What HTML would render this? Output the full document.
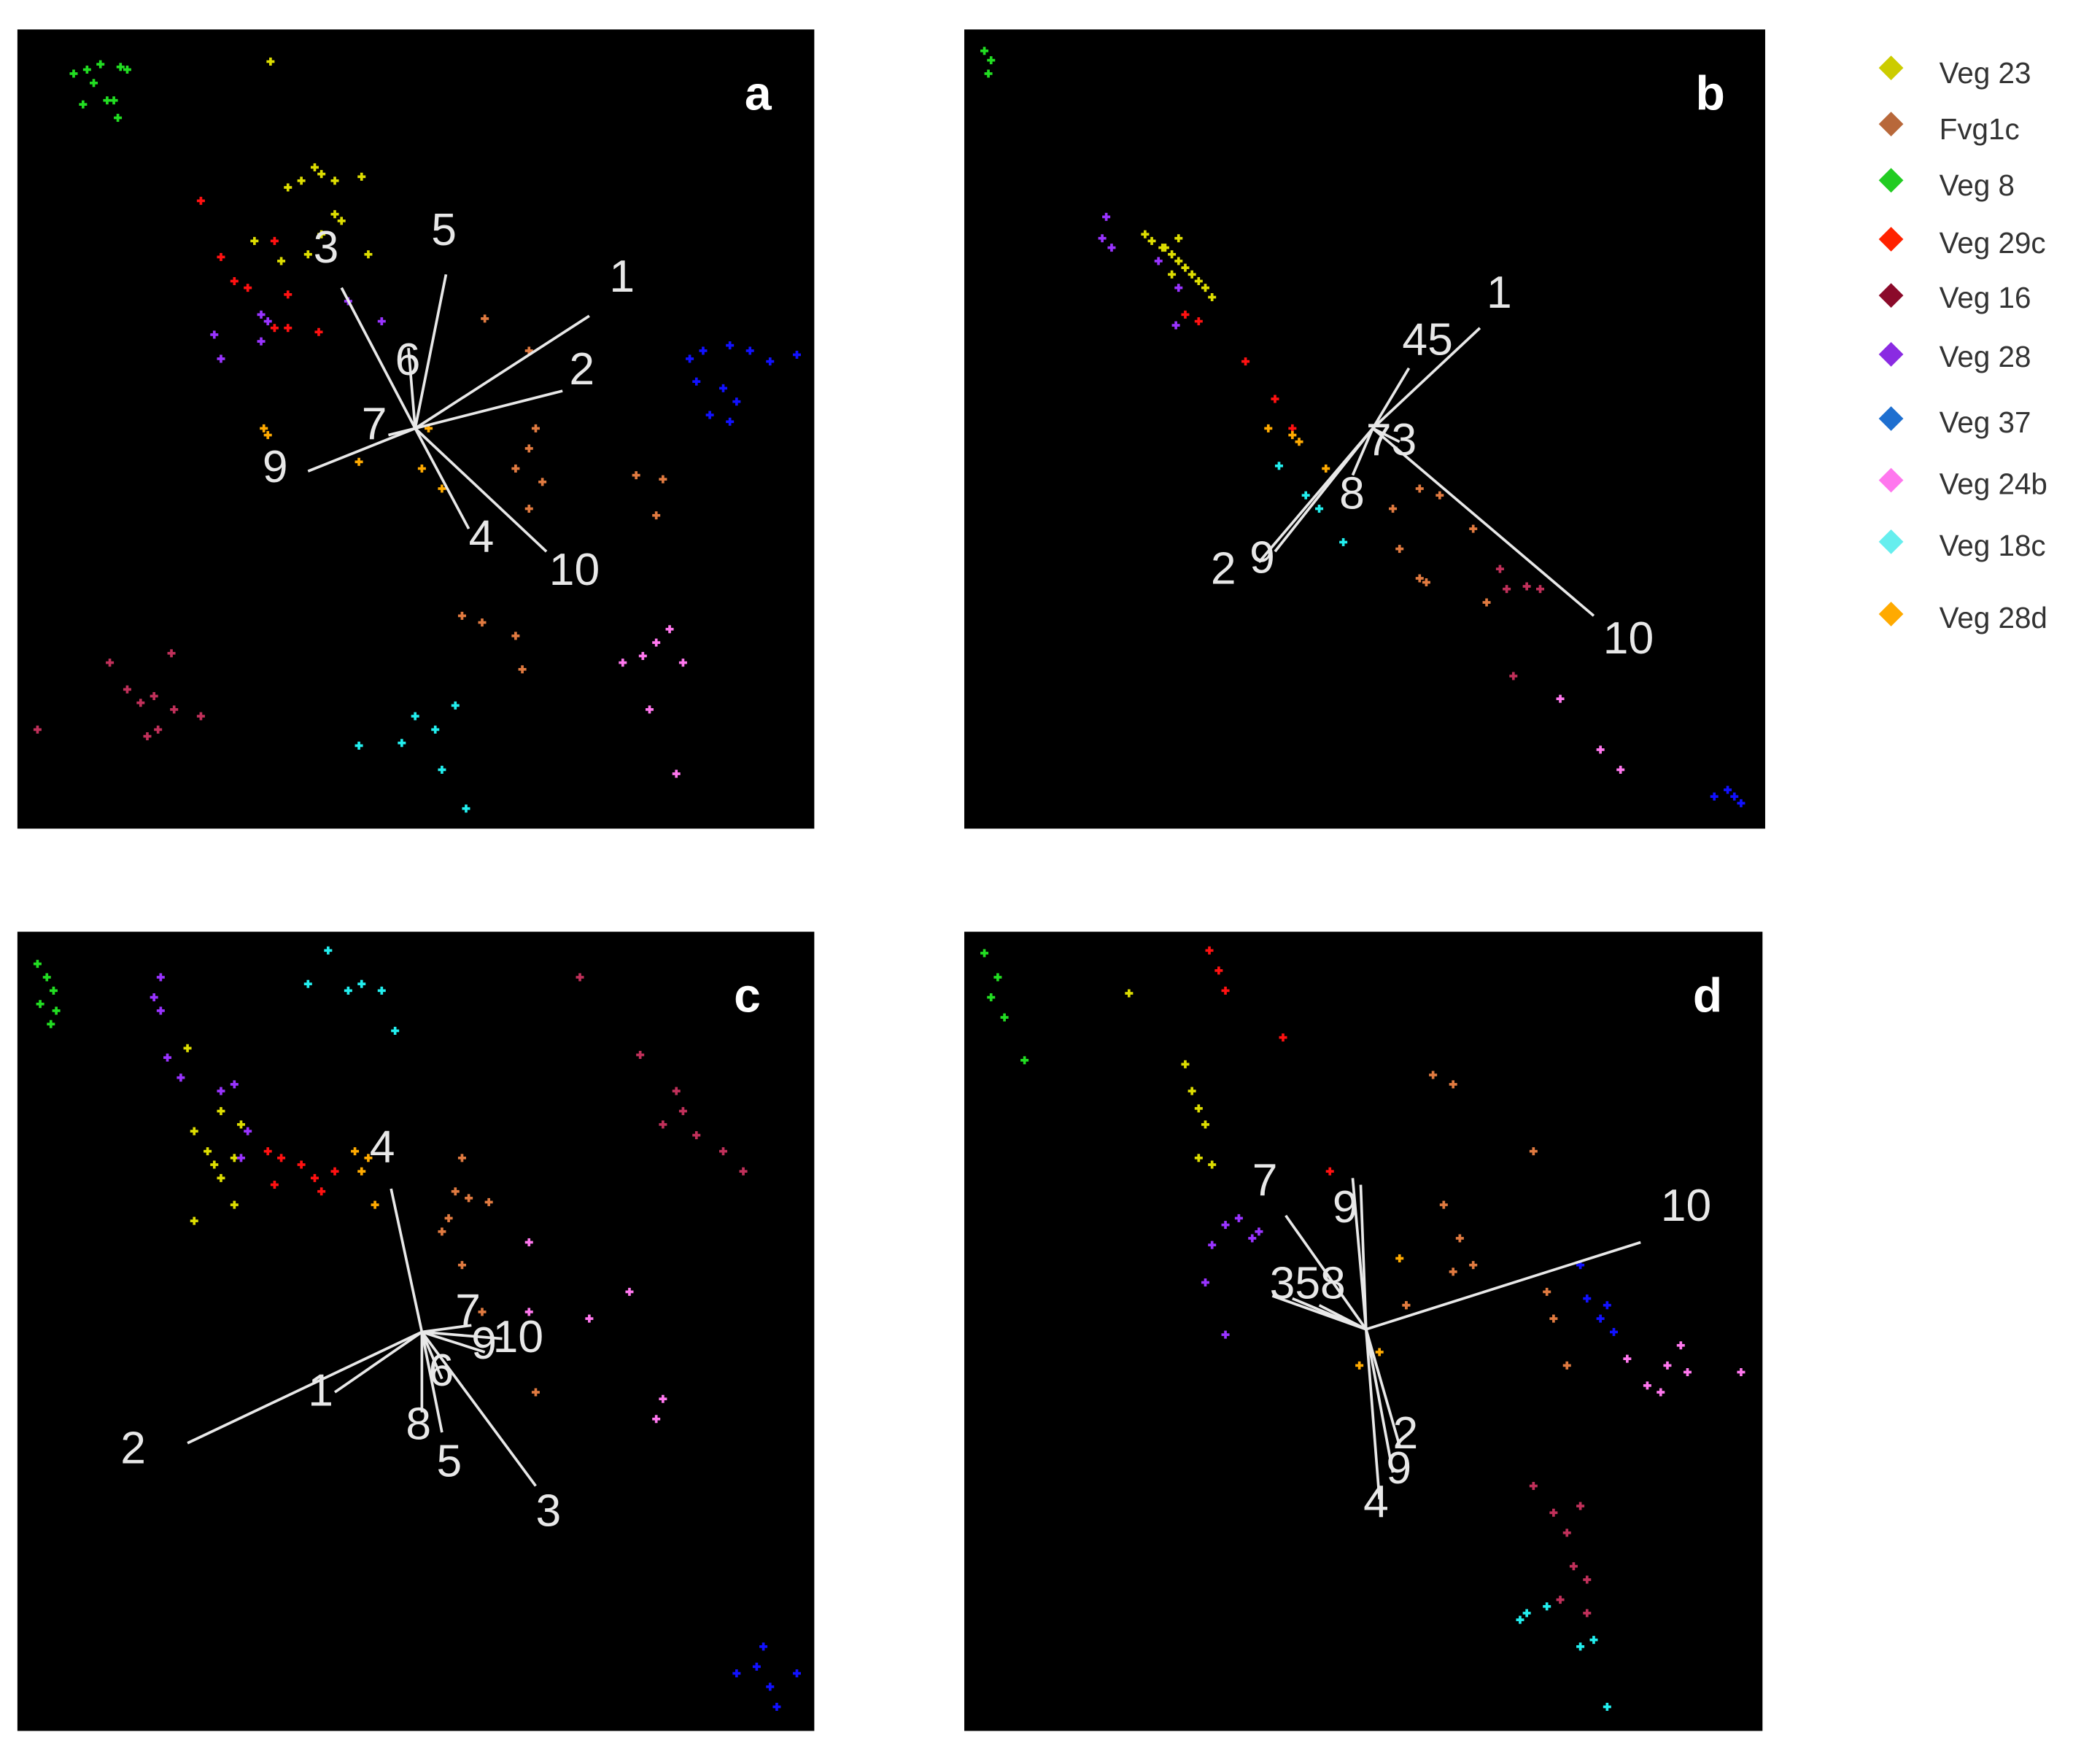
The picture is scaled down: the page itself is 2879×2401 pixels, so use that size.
<!DOCTYPE html>
<html><head><meta charset="utf-8"><style>
html,body{margin:0;padding:0;background:#fff;}
svg{display:block;}
text{font-family:"Liberation Sans",sans-serif;}
.l{fill:none;stroke:#e8e8e8;stroke-width:2;}
.n{fill:#e8e8e8;font-size:34px;}
.p{fill:#fff;font-size:36px;font-weight:bold;}
.g{font-size:22px;fill:#333;}
</style></head><body>
<svg id="sv" width="2879" height="2401" viewBox="0 0 1568 1308" preserveAspectRatio="none" xmlns="http://www.w3.org/2000/svg">
<rect x="13" y="22" width="595" height="597" fill="#000"/>
<rect x="720" y="22" width="598" height="597" fill="#000"/>
<rect x="13" y="696" width="595" height="597" fill="#000"/>
<rect x="720" y="696" width="596" height="597" fill="#000"/>
<g id="pts"></g>
<g class="l">
<line x1="310" y1="320" x2="440" y2="236"/><line x1="310" y1="320" x2="420" y2="292"/>
<line x1="310" y1="320" x2="255" y2="215"/><line x1="310" y1="320" x2="333" y2="205"/>
<line x1="310" y1="320" x2="350" y2="395"/><line x1="310" y1="320" x2="408" y2="412"/>
<line x1="310" y1="320" x2="230" y2="352"/><line x1="310" y1="320" x2="305" y2="260"/>
<line x1="310" y1="320" x2="290" y2="325"/>
<line x1="1025" y1="320" x2="1105" y2="245"/><line x1="1025" y1="320" x2="1052" y2="275"/>
<line x1="1025" y1="320" x2="940" y2="420"/><line x1="1025" y1="320" x2="952" y2="412"/>
<line x1="1025" y1="320" x2="1190" y2="460"/><line x1="1025" y1="320" x2="1010" y2="355"/>
<line x1="1025" y1="320" x2="1045" y2="330"/>
<line x1="315" y1="995" x2="292" y2="888"/><line x1="315" y1="995" x2="140" y2="1078"/>
<line x1="315" y1="995" x2="250" y2="1040"/><line x1="315" y1="995" x2="315" y2="1055"/>
<line x1="315" y1="995" x2="330" y2="1070"/><line x1="315" y1="995" x2="400" y2="1110"/>
<line x1="315" y1="995" x2="330" y2="1030"/><line x1="315" y1="995" x2="352" y2="990"/>
<line x1="315" y1="995" x2="375" y2="1000"/><line x1="315" y1="995" x2="362" y2="1010"/>
<line x1="1020" y1="993" x2="1225" y2="928"/><line x1="1020" y1="993" x2="960" y2="908"/>
<line x1="1020" y1="993" x2="1010" y2="880"/><line x1="1020" y1="993" x2="1016" y2="885"/>
<line x1="1020" y1="993" x2="950" y2="968"/><line x1="1020" y1="993" x2="965" y2="970"/>
<line x1="1020" y1="993" x2="985" y2="975"/><line x1="1020" y1="993" x2="1045" y2="1080"/>
<line x1="1020" y1="993" x2="1040" y2="1100"/><line x1="1020" y1="993" x2="1030" y2="1120"/>
</g>
<g class="n">
<text x="455" y="218">1</text><text x="425" y="287">2</text><text x="234" y="196">3</text><text x="322" y="183">5</text>
<text x="350" y="412">4</text><text x="410" y="437">10</text><text x="196" y="360">9</text><text x="295" y="280">6</text><text x="270" y="328">7</text>
<text x="1110" y="230">1</text><text x="1047" y="265">45</text><text x="904" y="436">2</text><text x="933" y="428">9</text>
<text x="1197" y="488">10</text><text x="1000" y="380">8</text><text x="1020" y="340">73</text>
<text x="276" y="868">4</text><text x="90" y="1093">2</text><text x="230" y="1050">1</text><text x="303" y="1075">8</text>
<text x="326" y="1103">5</text><text x="400" y="1140">3</text><text x="320" y="1035">6</text><text x="340" y="990">7</text>
<text x="368" y="1010">10</text><text x="352" y="1015">9</text>
<text x="1240" y="912">10</text><text x="935" y="893">7</text><text x="995" y="913">9</text><text x="948" y="970">358</text>
<text x="1040" y="1082">2</text><text x="1035" y="1108">9</text><text x="1018" y="1133">4</text>
</g>
<text class="p" x="556" y="82">a</text><text class="p" x="1266" y="82">b</text>
<text class="p" x="548" y="756">c</text><text class="p" x="1264" y="756">d</text>
<g>
<rect x="1406" y="44" width="13" height="13" transform="rotate(45 1412 50)" fill="#cccc00"/><text class="g" x="1448" y="62">Veg 23</text>
<rect x="1406" y="86" width="13" height="13" transform="rotate(45 1412 92)" fill="#b8683a"/><text class="g" x="1448" y="104">Fvg1c</text>
<rect x="1406" y="128" width="13" height="13" transform="rotate(45 1412 134)" fill="#22cc22"/><text class="g" x="1448" y="146">Veg 8</text>
<rect x="1406" y="172" width="13" height="13" transform="rotate(45 1412 178)" fill="#ff2200"/><text class="g" x="1448" y="189">Veg 29c</text>
<rect x="1406" y="214" width="13" height="13" transform="rotate(45 1412 220)" fill="#8b0a2a"/><text class="g" x="1448" y="230">Veg 16</text>
<rect x="1406" y="258" width="13" height="13" transform="rotate(45 1412 264)" fill="#8a2be2"/><text class="g" x="1448" y="274">Veg 28</text>
<rect x="1406" y="306" width="13" height="13" transform="rotate(45 1412 312)" fill="#1e6fd0"/><text class="g" x="1448" y="323">Veg 37</text>
<rect x="1406" y="352" width="13" height="13" transform="rotate(45 1412 358)" fill="#ff77ee"/><text class="g" x="1448" y="369">Veg 24b</text>
<rect x="1406" y="398" width="13" height="13" transform="rotate(45 1412 404)" fill="#66eeee"/><text class="g" x="1448" y="415">Veg 18c</text>
<rect x="1406" y="452" width="13" height="13" transform="rotate(45 1412 458)" fill="#ffaa00"/><text class="g" x="1448" y="469">Veg 28d</text>
</g>
</svg>
<script>
(function(){
var C={g:"#22dd22",y:"#dddd00",r:"#ff1111",p:"#9933ff",o:"#ffaa00",b:"#e07a40",B:"#1111ff",m:"#c0305a",k:"#ff77ee",c:"#22eeee"};
var D={
g:[55,55,65,52,75,48,90,50,95,52,70,62,80,75,62,78,88,88,85,75,735,38,740,45,738,55,28,720,35,730,40,740,30,750,38,765,42,755,735,712,745,730,740,745,750,760,765,792],
y:[202,46,215,140,225,135,235,125,240,130,250,135,270,132,250,160,255,165,240,175,230,190,210,195,190,180,275,190,855,175,860,180,868,185,875,190,880,195,885,200,890,205,895,210,900,215,905,222,875,205,870,185,880,178,140,783,145,845,155,860,160,870,165,880,175,865,180,840,165,830,145,912,175,900,843,742,885,795,890,815,900,840,895,865,905,870,895,828],
r:[150,150,165,192,175,210,185,215,205,180,215,220,205,245,215,245,238,248,885,235,895,240,930,270,952,298,965,320,200,860,210,865,205,885,225,870,235,880,240,890,250,875,903,710,910,725,915,740,958,775,993,875],
p:[160,250,165,268,195,235,200,240,195,255,260,225,285,240,826,162,823,178,830,185,865,195,880,215,878,243,120,730,115,745,120,755,125,790,135,805,165,815,175,810,185,845,180,865,905,930,915,915,925,910,935,925,940,920,900,958,915,997],
o:[197,320,200,325,268,345,320,320,315,350,330,365,947,320,965,325,970,330,990,350,265,860,270,875,280,900,275,865,1045,940,1050,975,1030,1010,1015,1020],
b:[362,238,395,262,400,320,395,335,385,350,405,360,395,380,475,355,495,358,490,385,345,460,360,465,385,475,390,500,1040,380,1060,365,1075,370,1045,410,1065,435,1100,395,1110,450,1060,432,345,865,340,890,350,895,365,898,335,910,330,920,345,945,360,980,400,1040,1070,803,1085,810,1145,860,1078,900,1090,925,1100,945,1085,950,1050,975,1155,965,1160,985,1170,1020],
B:[515,268,525,262,545,258,560,262,575,270,595,265,520,285,540,290,550,300,530,310,545,315,1280,595,1290,590,1300,600,1295,595,550,1250,565,1245,575,1260,595,1250,580,1275,570,1230,1180,945,1185,970,1195,985,1200,975,1205,995],
m:[28,545,82,495,95,515,105,525,115,520,128,488,130,530,150,535,110,550,118,545,1120,425,1125,440,1140,438,1150,440,1130,505,433,730,478,788,505,815,510,830,495,840,520,848,540,860,555,875,1145,1110,1160,1130,1170,1145,1175,1170,1185,1180,1165,1195,1185,1205,1180,1125],
k:[465,495,480,490,490,480,500,470,510,495,485,530,505,578,1165,522,1195,560,1210,575,395,928,395,980,440,985,470,965,490,1060,495,1045,1215,1015,1230,1035,1245,1020,1255,1005,1260,1025,1300,1025,1240,1040],
c:[268,557,300,555,310,535,325,545,340,527,330,575,348,604,955,348,975,370,985,380,1003,405,230,735,245,710,260,740,270,735,285,740,295,770,1135,1210,1140,1205,1155,1200,1180,1230,1190,1225,1200,1275]};
var NS="http://www.w3.org/2000/svg",g=document.getElementById("pts");
function R(x,y,w,h,f){var e=document.createElementNS(NS,"rect");e.setAttribute("x",x);e.setAttribute("y",y);e.setAttribute("width",w);e.setAttribute("height",h);e.setAttribute("fill",f);g.appendChild(e);}
for(var k in D){var a=D[k];for(var i=0;i<a.length;i+=2){var x=a[i],y=a[i+1];R(x-3,y-1,6,2,C[k]);R(x-1,y-3,2,6,C[k]);}}
})();
</script>
</body></html>
